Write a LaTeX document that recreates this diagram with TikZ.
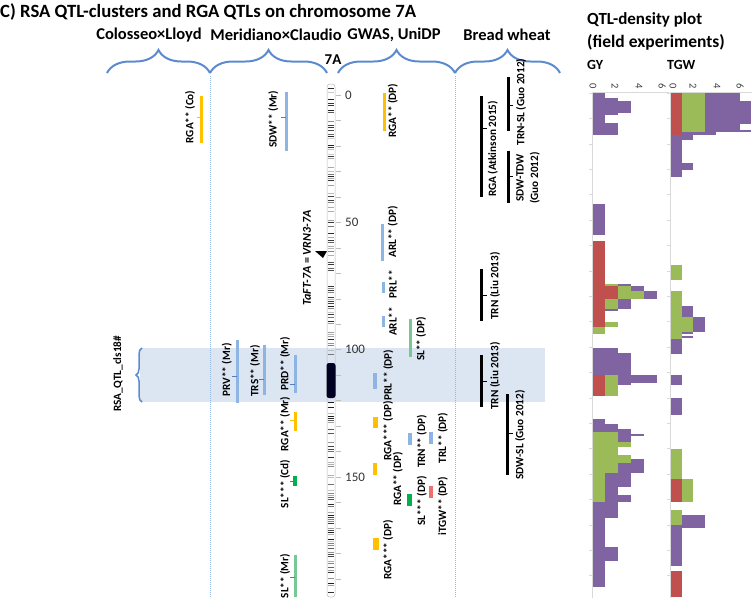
\documentclass[tikz,border=0pt]{standalone}
\usepackage{fontspec}
\setmainfont{Carlito}
\usetikzlibrary{decorations.pathreplacing}
\definecolor{qblue}{RGB}{141,180,226}
\definecolor{qbluedk}{RGB}{79,129,189}
\definecolor{qorange}{RGB}{255,192,0}
\definecolor{qgreen}{RGB}{0,176,80}
\definecolor{qlgreen}{RGB}{120,200,150}
\definecolor{qred}{RGB}{240,110,110}
\definecolor{hpurple}{RGB}{128,100,162}
\definecolor{hgreen}{RGB}{155,187,89}
\definecolor{hred}{RGB}{192,80,77}
\definecolor{bandc}{RGB}{220,230,242}
\definecolor{bracec}{RGB}{91,139,206}
\definecolor{sepc}{RGB}{150,185,225}
\definecolor{axc}{RGB}{217,217,217}
\newcommand{\qbar}[5]{\draw[#4, line width=#5] (#1,#2) -- (#1,#3);}
\newcommand{\qtickL}[3]{\draw[#3, line width=1pt] (#1,#2) -- ++(-5,0);}
\newcommand{\qtickR}[3]{\draw[#3, line width=1pt] (#1,#2) -- ++(5,0);}
\begin{document}
\begin{tikzpicture}[x=1pt,y=-1pt,
  lbl/.style={rotate=90, font=\fontsize{11.2}{14.5}\selectfont\bfseries, inner sep=0pt},
  hdr/.style={font=\fontsize{16.5}{18}\selectfont\bfseries, inner sep=0pt},
  brc/.style={draw=bracec, line width=2pt, decorate, decoration={brace, amplitude=23pt}},
  vbrc/.style={draw=bracec, line width=1.5pt, decorate, decoration={brace, amplitude=6pt}},
  sep/.style={draw=sepc, line width=0.8pt, dash pattern=on 1pt off 1pt},
  num/.style={font=\fontsize{13}{14}\selectfont, text=black!80, inner sep=0pt, anchor=west},
  hnum/.style={font=\fontsize{10.5}{11}\selectfont, text=black!75, inner sep=0pt, rotate=-90}
]
\useasboundingbox (0,0) rectangle (755,600);

% highlight band
\fill[bandc] (140,348) rectangle (545,402);

% title and headers
\node[font=\fontsize{18.7}{20}\selectfont\bfseries, anchor=west, inner sep=0pt] (title) at (0,12) {C) RSA QTL-clusters and RGA QTLs on chromosome 7A};
\node[hdr] (h1) at (149,35) {Colosseo×Lloyd};
\node[hdr] (h2) at (276,35) {Meridiano×Claudio};
\node[hdr] (h3) at (394,35) {GWAS, UniDP};
\node[hdr] (h4) at (507,35) {Bread wheat};
\node[hdr, font=\fontsize{15}{16}\selectfont\bfseries] (h7a) at (333,60) {7A};
\node[hdr, anchor=west, font=\fontsize{17}{18}\selectfont\bfseries] (qd1) at (587,20) {QTL-density plot};
\node[hdr, anchor=west, font=\fontsize{17.5}{18}\selectfont\bfseries] (qd2) at (587,42) {(field experiments)};
\node[hdr, anchor=west, font=\fontsize{14}{15}\selectfont\bfseries] (gy) at (587,65) {GY};
\node[hdr, anchor=west, font=\fontsize{14}{15}\selectfont\bfseries] (tgw) at (667,65) {TGW};

% braces
\draw[brc] (107,73) -- (210,73);
\draw[brc] (210,73) -- (327,73);
\draw[brc] (338,73) -- (455,73);
\draw[brc] (455,73) -- (560,73);
\draw[vbrc] (142,402) -- (142,348);
\node[lbl] (cls) at (118,374) {RSA\_QTL\_cls18\#};

% separators
\draw[sep] (210,76) -- (210,597);
\draw[sep] (455,76) -- (455,597);

% chromosome
\pgfmathsetseed{12}
\foreach \k in {0,...,230}{
  \pgfmathsetmacro{\yy}{86+2.2*\k}
  \pgfmathsetmacro{\rr}{rnd}
  \pgfmathsetmacro{\sh}{int(20+70*rnd)}
  \ifdim\rr pt>0.40pt
    \draw[black!\sh, line width=0.9pt] (327.6,\yy) -- (334.4,\yy);
  \fi
}
\draw[gray!55, line width=0.5pt, rounded corners=3pt] (327,84) rectangle (335,597);
\fill[black!85!blue!90!black, rounded corners=2.5pt] (326.5,363) rectangle (335.5,398);
\foreach \k in {0,...,19}{
  \draw[gray!50, line width=0.5pt] (336,{95+25.47*\k}) -- (341,{95+25.47*\k});
}
\node[num] (c0) at (345,95) {0};
\node[num] (c50) at (345,222.4) {50};
\node[num] (c100) at (345,349.7) {100};
\node[num] (c150) at (345,477) {150};
\fill[black] (315,251) -- (327,251) -- (323,258) -- cycle;
\node[lbl, font=\fontsize{12}{14}\selectfont\bfseries] (taft) at (307,258) {\itshape TaFT-7A \upshape= \itshape VRN3-7A};

% Colosseo x Lloyd
\qbar{201.7}{96}{143.3}{qorange}{3pt} \qtickL{201.7}{117.7}{qorange}
\node[lbl] (l1) at (190,117) {RGA** (Co)};

% Meridiano x Claudio
\qbar{286}{91.7}{150.7}{qblue}{3pt} \qtickL{286}{117.7}{qbluedk}
\node[lbl] (l2) at (273.3,119) {SDW** (Mr)};
\qbar{237.3}{340}{402.7}{qblue}{3pt} \qtickL{237.3}{376}{qbluedk}
\node[lbl] (l3) at (226.7,370) {PRV** (Mr)};
\qbar{264}{345}{395}{qblue}{3pt} \qtickL{264}{379}{qbluedk}
\node[lbl] (l4) at (255,371) {TRS** (Mr)};
\qbar{295}{355}{393.3}{qblue}{3pt} \qtickL{295}{384.3}{qbluedk}
\node[lbl] (l5) at (285,364) {PRD** (Mr)};
\qbar{295}{411.7}{430.7}{qorange}{3pt} \qtickL{295}{420}{qorange}
\node[lbl] (l6) at (285,424) {RGA** (Mr)};
\qbar{294.5}{476}{486}{qgreen}{4pt} \qtickL{294.5}{481}{qgreen}
\node[lbl] (l7) at (285,484) {SL*** (Cd)};
\qbar{295}{555}{596.7}{qlgreen}{3pt} \qtickL{295}{577.7}{qlgreen!70!black}
\node[lbl] (l8) at (285,576) {SL** (Mr)};

% GWAS UniDP
\qbar{384.5}{93.3}{131}{qorange}{3.3pt}
\node[lbl] (g1) at (392.7,110.5) {RGA** (DP)};
\qbar{382.7}{224}{260.7}{qblue}{3.5pt}
\node[lbl] (g2) at (392.7,232) {ARL** (DP)};
\qbar{383}{281.7}{293.3}{qblue}{3pt}
\node[lbl] (g3) at (392.7,284) {PRL**};
\qbar{383}{315.7}{327.3}{qblue}{3pt}
\node[lbl] (g4) at (392.7,321.5) {ARL**};
\qbar{410.7}{319}{357.3}{qlgreen}{3.5pt}
\node[lbl] (g5) at (421,339) {SL** (DP)};
\qbar{375}{373.3}{389.3}{qblue}{4pt}
\node[lbl] (g6) at (388.3,375) {PRL** (DP)};
\qbar{375}{416.7}{428.3}{qorange}{5pt}
\node[lbl] (g7) at (388,431) {RGA*** (DP)};
\qbar{375}{463.3}{475}{qorange}{4pt}
\node[lbl] (g8) at (397.7,479) {RGA** (DP)};
\qbar{410}{432.7}{445}{qblue}{4pt}
\node[lbl] (g9) at (421.7,441.5) {TRN** (DP)};
\qbar{430.7}{432.3}{444.3}{qblue}{4pt}
\node[lbl] (g10) at (442.7,438) {TRL** (DP)};
\qbar{409.3}{494.3}{506}{qgreen}{5.5pt}
\node[lbl] (g11) at (421.7,501) {SL*** (DP)};
\qbar{431}{486}{497.7}{qred}{3.5pt}
\node[lbl] (g12) at (442.7,506) {iTGW** (DP)};
\qbar{375.7}{538.3}{550}{qorange}{6pt}
\node[lbl] (g13) at (388,550) {RGA*** (DP)};

% Bread wheat
\qbar{481.7}{96}{196.7}{black}{3.3pt} \qtickR{481.7}{128.3}{black}
\node[lbl] (b1) at (492.7,149) {RGA (Atkinson 2015)};
\qbar{508.3}{77}{131}{black}{3.3pt} \qtickR{508.3}{105}{black}
\node[lbl] (b2) at (521,102) {TRN-SL (Guo 2012)};
\qbar{508.3}{150.7}{202.7}{black}{3.3pt} \qtickR{508.3}{176.7}{black}
\node[lbl, align=center] (b3) at (528,178) {SDW-TDW\\(Guo 2012)};
\qbar{481.7}{269.3}{320.7}{black}{3.3pt} \qtickR{481.7}{295}{black}
\node[lbl] (b4) at (495,286) {TRN (Liu 2013)};
\qbar{481.7}{355}{406.7}{black}{3.3pt} \qtickR{481.7}{381}{black}
\node[lbl] (b5) at (495,376) {TRN (Liu 2013)};
\qbar{507.7}{394}{475}{black}{3.3pt} \qtickR{507.7}{433.3}{black}
\node[lbl] (b6) at (520,435) {SDW-SL (Guo 2012)};

% density plot GY
\foreach \a/\b/\r/\g/\p in {93.3/98.3/0/0/1, 98.3/100.7/0/0/2, 100.7/112.7/0/0/3, 112.7/115/0/0/2, 115/123.3/0/0/1, 123.3/135/0/0/2, 204/235/0/0/1, 240.7/284/1/1/1, 284/286/1/2/3, 286/290.7/2/3/4, 290.7/299/2/4/5, 299/309.3/1/2/3, 309.3/311.3/1/1/2, 311.3/321.7/1/1/1, 321.7/326.7/1/2/2, 326.7/334.3/0/1/1, 347.7/352.7/0/0/2, 352.7/375/0/0/3, 375/382.7/1/2/5, 382.7/385/1/2/3, 385/395.7/1/2/2, 419.3/424.3/0/0/1, 424.3/429.3/0/0/2, 429.3/431.7/0/0/3, 431.7/434/0/2/3, 434/436/0/2/4, 436/441.7/0/2/3, 441.7/446.7/0/3/3, 446.7/455/0/2/2, 455/459.3/0/3/3, 459.3/462.7/0/3/4, 462.7/472.7/0/2/4, 472.7/486.7/0/1/3, 486.7/495/0/1/2, 495/502.3/0/1/3, 502.3/517.7/0/0/2, 517.7/546.7/0/0/1, 546.7/561/0/0/2, 561/586.7/0/0/1}{
  \fill[hpurple] (592,\a) rectangle ({592+13*\p},\b);
  \fill[hgreen] (592,\a) rectangle ({592+13*\g},\b);
  \fill[hred] (592,\a) rectangle ({592+13*\r},\b);
}
% density plot TGW
\foreach \a/\b/\r/\g/\p in {92.7/100.7/1/3/6, 100.7/124/1/3/7, 124/130/1/3/6, 130/131.7/1/3/7, 131.7/135/1/1/4, 135/140/0/0/2, 140/163.3/0/0/1, 163.3/170/0/0/2, 170/176.7/0/0/1, 265/280/0/1/1, 291/306/0/1/1, 306/316.7/0/1/2, 316.7/331.7/0/2/3, 331.7/334.3/0/1/2, 334.3/336/0/1/1, 336/338.3/0/1/2, 338.3/339/0/1/1, 339/354.3/0/0/1, 375/385/0/0/1, 397.7/415/0/0/1, 449/479.3/0/1/1, 479.3/502.3/1/2/2, 510/515/0/1/1, 515/525/0/1/3, 525/527.7/0/0/3, 527.7/566/0/0/1, 571/596.7/1/1/1}{
  \fill[hpurple] (670,\a) rectangle ({670+11.6*\p},\b);
  \fill[hgreen] (670,\a) rectangle ({670+11.6*\g},\b);
  \fill[hred] (670,\a) rectangle ({670+11.6*\r},\b);
}
% axes
\draw[axc, line width=0.8pt] (592,92.5) -- (592,598);
\draw[axc, line width=0.8pt] (670,92.5) -- (670,598);
\draw[axc, line width=0.8pt] (592,92.5) -- (669,92.5);
\draw[axc, line width=0.8pt] (670,92.5) -- (752,92.5);
\foreach \k in {0,...,19}{
  \draw[axc, line width=0.6pt] (589,{93+25.4*\k}) -- (592,{93+25.4*\k});
  \draw[axc, line width=0.6pt] (667,{93+25.4*\k}) -- (670,{93+25.4*\k});
}
\foreach \v/\xa/\xb in {0/593/673, 2/615/693, 4/639/717, 6/662/740}{
  \node[hnum] (ga\v) at (\xa,86) {\v};
  \node[hnum] (ta\v) at (\xb,86) {\v};
}
\end{tikzpicture}
\end{document}
